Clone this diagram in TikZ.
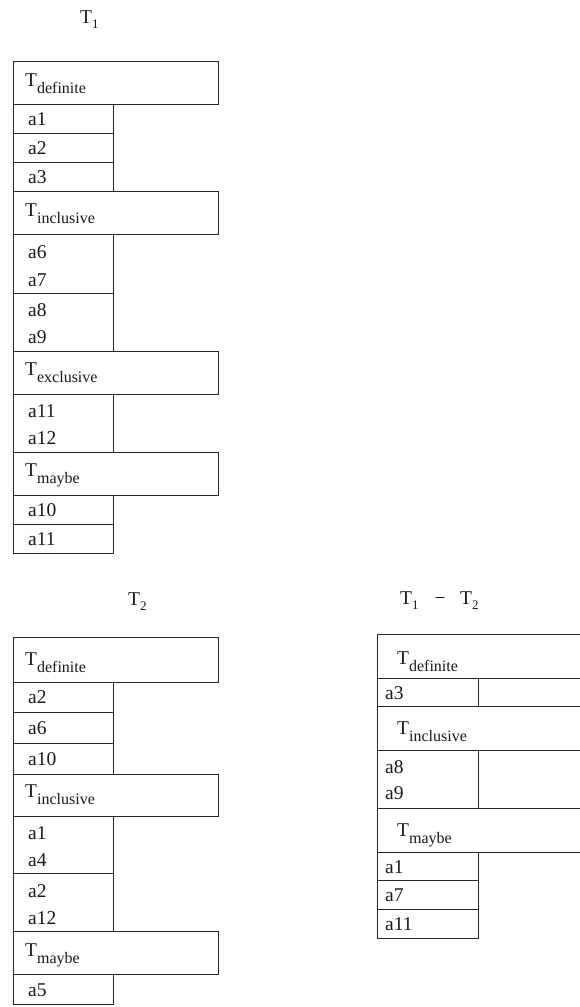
\documentclass[tikz,border=0pt]{standalone}
\usepackage{fontspec}
\setmainfont{Liberation Serif}
% relation name with a lowered subscript
\newcommand\Tsub[1]{T\raisebox{-7.5pt}{\fontsize{16}{16}\selectfont #1}}
\newcommand\Tidx[1]{T\raisebox{-5pt}{\fontsize{13}{13}\selectfont #1}}
\begin{document}
\begin{tikzpicture}[x=1pt,y=-1pt,
  cell/.style={draw=black!85, line width=0.9pt},
  txt/.style={anchor=base west, inner sep=0pt, font=\fontsize{19.5}{19.5}\selectfont, text=black!90}]
\useasboundingbox (0,0) rectangle (580,1007);
\clip (0,0) rectangle (580,1007);

% ---------- T1 ----------
\node[txt] (t1) at (80,23) {\Tidx{1}};
\draw[cell] (13,61) rectangle (218,104);
\draw[cell] (13,104) rectangle (113,133);
\draw[cell] (13,133) rectangle (113,162);
\draw[cell] (13,162) rectangle (113,191);
\draw[cell] (13,191) rectangle (218,234);
\draw[cell] (13,234) rectangle (113,293);
\draw[cell] (13,293) rectangle (113,351);
\draw[cell] (13,351) rectangle (218,394);
\draw[cell] (13,394) rectangle (113,452);
\draw[cell] (13,452) rectangle (218,495);
\draw[cell] (13,495) rectangle (113,524);
\draw[cell] (13,524) rectangle (113,553);
\node[txt] (t1def) at (25,86) {\Tsub{definite}};
\node[txt] (t1a1) at (28,125) {a1};
\node[txt] (t1a2) at (28,154) {a2};
\node[txt] (t1a3) at (28,183) {a3};
\node[txt] (t1inc) at (25,216) {\Tsub{inclusive}};
\node[txt] (t1a6) at (28,258) {a6};
\node[txt] (t1a7) at (28,286) {a7};
\node[txt] (t1a8) at (28,316) {a8};
\node[txt] (t1a9) at (28,343) {a9};
\node[txt] (t1exc) at (25,375) {\Tsub{exclusive}};
\node[txt] (t1a11) at (28,417) {a11};
\node[txt] (t1a12) at (28,444) {a12};
\node[txt] (t1may) at (25,476) {\Tsub{maybe}};
\node[txt] (t1a10) at (28,516) {a10};
\node[txt] (t1a11b) at (28,545) {a11};

% ---------- T2 ----------
\node[txt] (t2) at (128,605) {\Tidx{2}};
\draw[cell] (13,637) rectangle (218,682);
\draw[cell] (13,682) rectangle (113,712);
\draw[cell] (13,712) rectangle (113,743);
\draw[cell] (13,743) rectangle (113,774);
\draw[cell] (13,774) rectangle (218,816);
\draw[cell] (13,816) rectangle (113,873);
\draw[cell] (13,873) rectangle (113,931);
\draw[cell] (13,931) rectangle (218,974);
\draw[cell] (13,974) rectangle (113,1004);
\node[txt] (t2def) at (25,665) {\Tsub{definite}};
\node[txt] (t2a2) at (28,703) {a2};
\node[txt] (t2a6) at (28,734) {a6};
\node[txt] (t2a10) at (28,765) {a10};
\node[txt] (t2inc) at (25,797) {\Tsub{inclusive}};
\node[txt] (t2a1) at (28,839) {a1};
\node[txt] (t2a4) at (28,866) {a4};
\node[txt] (t2a2b) at (28,897) {a2};
\node[txt] (t2a12) at (28,924) {a12};
\node[txt] (t2may) at (25,956) {\Tsub{maybe}};
\node[txt] (t2a5) at (28,996) {a5};

% ---------- T1 - T2 ----------
\node[txt] (d1) at (400,604) {\Tidx{1}};
\node[txt, anchor=base] (dminus) at (440,604) {−};
\node[txt] (d2) at (460,604) {\Tidx{2}};
\draw[cell] (377,634) rectangle (600,678);
\draw[cell] (377,678) rectangle (478,706);
\draw[cell] (377,706) rectangle (600,750);
\draw[cell] (377,750) rectangle (478,808);
\draw[cell] (377,808) rectangle (600,852);
\draw[cell] (377,852) rectangle (478,880);
\draw[cell] (377,880) rectangle (478,909);
\draw[cell] (377,909) rectangle (478,938);
\node[txt] (ddef) at (397,664) {\Tsub{definite}};
\node[txt] (da3) at (385,699) {a3};
\node[txt] (dinc) at (397,734) {\Tsub{inclusive}};
\node[txt] (da8) at (385,773) {a8};
\node[txt] (da9) at (385,799) {a9};
\node[txt] (dmay) at (397,836) {\Tsub{maybe}};
\node[txt] (da1) at (385,873) {a1};
\node[txt] (da7) at (385,901) {a7};
\node[txt] (da11) at (385,930) {a11};
\end{tikzpicture}
\end{document}
